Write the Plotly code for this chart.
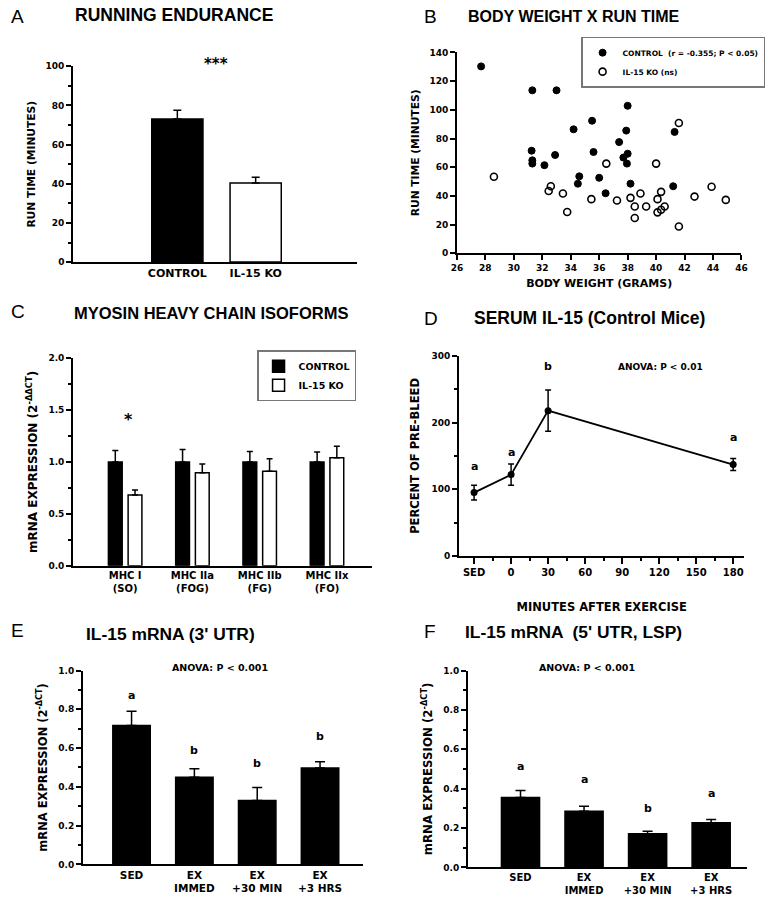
import plotly.graph_objects as go

W, H = 777, 903

# ---------------- DATA ----------------
# A: running endurance
a_groups = ["CONTROL", "IL-15 KO"]
a_runtime = [73.1, 40.4]
a_sem = [4.5, 3.0]

# B: body weight vs run time
b_ctrl_weight = [27.7, 31.3, 33.0, 38.0, 34.2, 35.5, 37.9, 41.3, 37.4, 31.25, 35.6, 32.9,
                 38.0, 37.7, 31.3, 31.3, 32.15, 37.95, 34.6, 36.0, 34.5, 38.2, 41.2, 36.45]
b_ctrl_run = [130.3, 113.6, 113.6, 102.8, 86.4, 92.4, 85.5, 84.6, 77.5, 71.5, 70.6, 68.5,
              69.4, 66.7, 64.8, 62.5, 61.4, 62.5, 53.6, 52.6, 48.5, 48.5, 46.7, 41.8]
b_ko_weight = [28.6, 32.6, 32.45, 33.45, 33.75, 35.45, 36.5, 37.25, 38.2, 38.5, 38.5, 38.9,
               39.3, 40.0, 40.1, 40.1, 40.35, 40.35, 40.6, 41.6, 41.6, 42.7, 43.9, 44.9]
b_ko_run = [53.3, 46.7, 43.4, 41.6, 28.7, 37.7, 62.5, 36.8, 38.6, 32.6, 24.6, 41.6,
            32.6, 62.5, 37.7, 28.5, 42.8, 30.3, 32.6, 90.8, 18.6, 39.5, 46.4, 37.2]

# C: myosin heavy chain isoforms
c_isoforms = ["MHC I<br>(SO)", "MHC IIa<br>(FOG)", "MHC IIb<br>(FG)", "MHC IIx<br>(FO)"]
c_ctrl = [1.0, 1.0, 1.0, 1.0]
c_ctrl_sem = [0.11, 0.12, 0.10, 0.095]
c_ko = [0.68, 0.895, 0.91, 1.04]
c_ko_sem = [0.05, 0.085, 0.12, 0.11]

# D: serum IL-15
d_minutes = [-30, 0, 30, 180]          # SED plotted one interval before 0
d_percent = [95, 122, 218, 137]
d_sem = [11, 16, 31, 9]
d_letters = ["a", "a", "b", "a"]
d_letter_y = [134, 155, 284, 177]
d_tickvals = [-30, 0, 30, 60, 90, 120, 150, 180]
d_ticktext = ["SED", "0", "30", "60", "90", "120", "150", "180"]

# E / F: IL-15 mRNA
ef_groups = ["SED", "EX<br>IMMED", "EX<br>+30 MIN", "EX<br>+3 HRS"]
e_expr = [0.716, 0.450, 0.329, 0.497]
e_sem = [0.074, 0.044, 0.067, 0.033]
e_letters = ["a", "b", "b", "b"]
e_letter_y = [0.873, 0.589, 0.518, 0.66]
f_expr = [0.355, 0.285, 0.171, 0.226]
f_sem = [0.035, 0.025, 0.013, 0.017]
f_letters = ["a", "a", "b", "a"]
f_letter_y = [0.514, 0.444, 0.30, 0.374]

# ---------------- STYLE HELPERS ----------------
LF = "DejaVu Sans"
TF = "Liberation Sans"


def px_x(px):
    return px / W


def px_y(py):
    return 1 - py / H


def dom_x(a, b):
    return [px_x(a), px_x(b)]


def dom_y(top, bottom):
    return [px_y(bottom), px_y(top)]


def axis_common(**kw):
    d = dict(showline=True, linecolor="black", linewidth=1.5, showgrid=False,
             zeroline=False, ticks="outside", tickcolor="black", tickwidth=1.5,
             ticklen=5, tickfont=dict(family=LF, size=9, color="black", weight="bold"),
             fixedrange=True)
    d.update(kw)
    return d


def ytitle(text, size=11, standoff=6):
    return dict(text=text, font=dict(family=LF, size=size, color="black", weight="bold"),
                standoff=standoff)


fig = go.Figure()

# ---------------- A ----------------
fig.add_trace(go.Bar(
    x=a_groups, y=a_runtime, width=0.654,
    marker=dict(color=["black", "white"], line=dict(color="black", width=1.5)),
    error_y=dict(type="data", array=a_sem, arrayminus=[0] * len(a_sem), symmetric=False,
                 color="black", thickness=1.5, width=4),
    xaxis="x", yaxis="y", showlegend=False))

# ---------------- B ----------------
fig.add_trace(go.Scatter(
    x=b_ctrl_weight, y=b_ctrl_run, mode="markers", name="CONTROL  (r = -0.355; P < 0.05)",
    marker=dict(symbol="circle", size=7, color="black", line=dict(color="black", width=1)),
    xaxis="x2", yaxis="y2", legend="legend"))
fig.add_trace(go.Scatter(
    x=b_ko_weight, y=b_ko_run, mode="markers", name="IL-15 KO (ns)",
    marker=dict(symbol="circle-open", size=7, color="black", line=dict(color="black", width=1.6)),
    xaxis="x2", yaxis="y2", legend="legend"))

# ---------------- C ----------------
fig.add_trace(go.Bar(
    x=c_isoforms, y=c_ctrl, name="CONTROL", width=0.205, offset=-0.249,
    marker=dict(color="black", line=dict(color="black", width=1.5)),
    error_y=dict(type="data", array=c_ctrl_sem, arrayminus=[0] * 4, symmetric=False,
                 color="black", thickness=1.5, width=3),
    xaxis="x3", yaxis="y3", legend="legend2"))
fig.add_trace(go.Bar(
    x=c_isoforms, y=c_ko, name="IL-15 KO", width=0.205, offset=0.044,
    marker=dict(color="white", line=dict(color="black", width=1.5)),
    error_y=dict(type="data", array=c_ko_sem, arrayminus=[0] * 4, symmetric=False,
                 color="black", thickness=1.5, width=3),
    xaxis="x3", yaxis="y3", legend="legend2"))

# ---------------- D ----------------
fig.add_trace(go.Scatter(
    x=d_minutes, y=d_percent, mode="lines+markers",
    line=dict(color="black", width=1.8),
    marker=dict(color="black", size=7),
    error_y=dict(type="data", array=d_sem, color="black", thickness=1.5, width=3),
    xaxis="x4", yaxis="y4", showlegend=False))

# ---------------- E ----------------
fig.add_trace(go.Bar(
    x=ef_groups, y=e_expr, width=0.596,
    marker=dict(color="black", line=dict(color="black", width=1.5)),
    error_y=dict(type="data", array=e_sem, arrayminus=[0] * 4, symmetric=False,
                 color="black", thickness=1.5, width=5),
    xaxis="x5", yaxis="y5", showlegend=False))

# ---------------- F ----------------
fig.add_trace(go.Bar(
    x=ef_groups, y=f_expr, width=0.6,
    marker=dict(color="black", line=dict(color="black", width=1.5)),
    error_y=dict(type="data", array=f_sem, arrayminus=[0] * 4, symmetric=False,
                 color="black", thickness=1.5, width=5),
    xaxis="x6", yaxis="y6", showlegend=False))

# ---------------- AXES ----------------
cat_font = lambda s: dict(family=LF, size=s, color="black", weight="bold")

layout = dict(
    width=W, height=H, margin=dict(l=0, r=0, t=0, b=0),
    paper_bgcolor="white", plot_bgcolor="white", barmode="overlay",
    # A
    xaxis=axis_common(domain=dom_x(68, 357), anchor="y", ticks="", range=[-1.333, 2.30],
                      tickfont=cat_font(11), type="category"),
    yaxis=axis_common(domain=dom_y(62, 260), anchor="x", range=[0, 100], dtick=20,
                      minor=dict(dtick=10, ticklen=3, ticks="outside", tickcolor="black", tickwidth=1.5),
                      title=ytitle("RUN TIME (MINUTES)", 10.7, 8)),
    # B
    xaxis2=axis_common(domain=dom_x(458, 747), anchor="y2", range=[26, 46], dtick=2,
                       title=dict(text="BODY WEIGHT (GRAMS)",
                                  font=dict(family=LF, size=11, color="black", weight="bold"),
                                  standoff=8)),
    yaxis2=axis_common(domain=dom_y(48, 251), anchor="x2", range=[0, 140], dtick=20,
                       title=ytitle("RUN TIME (MINUTES)", 10.7, 8)),
    # C
    xaxis3=axis_common(domain=dom_x(68, 372), anchor="y3", ticks="", range=[-0.776, 3.673],
                       tickfont=cat_font(10), type="category"),
    yaxis3=axis_common(domain=dom_y(357, 567), anchor="x3", range=[0, 2.0], dtick=0.5,
                       tickformat=".1f",
                       minor=dict(dtick=0.25, ticklen=3, ticks="outside", tickcolor="black", tickwidth=1.5),
                       title=ytitle("mRNA EXPRESSION (2<sup>-ΔΔCT</sup>)", 12, 8)),
    # D
    xaxis4=axis_common(domain=dom_x(460, 750), anchor="y4", range=[-42.3, 189.1],
                       tickmode="array", tickvals=d_tickvals, ticktext=d_ticktext,
                       ticklen=6, tickfont=cat_font(10),
                       minor=dict(tickmode="linear", tick0=-30, dtick=15, ticklen=3,
                                  ticks="outside", tickcolor="black", tickwidth=1.5),
                       title=dict(text="MINUTES AFTER EXERCISE",
                                  font=dict(family=LF, size=11.5, color="black", weight="bold"),
                                  standoff=26)),
    yaxis4=axis_common(domain=dom_y(355, 557), anchor="x4", range=[0, 300], dtick=100,
                       minor=dict(dtick=50, ticklen=3, ticks="outside", tickcolor="black", tickwidth=1.5),
                       title=ytitle("PERCENT OF PRE-BLEED", 11.5, 10)),
    # E
    xaxis5=axis_common(domain=dom_x(78, 363), anchor="y5", ticks="", range=[-0.776, 3.69],
                       tickfont=cat_font(10.5), type="category"),
    yaxis5=axis_common(domain=dom_y(673, 869), anchor="x5", range=[0, 1.0], dtick=0.2,
                       tickformat=".1f",
                       minor=dict(dtick=0.1, ticklen=3, ticks="outside", tickcolor="black", tickwidth=1.5),
                       title=ytitle("mRNA EXPRESSION (2<sup>-ΔCT</sup>)", 11.5, 8)),
    # F
    xaxis6=axis_common(domain=dom_x(469, 753), anchor="y6", ticks="", range=[-0.83, 3.57],
                       tickfont=cat_font(10), type="category"),
    yaxis6=axis_common(domain=dom_y(673, 872), anchor="x6", range=[0, 1.0], dtick=0.2,
                       tickformat=".1f",
                       minor=dict(dtick=0.1, ticklen=3, ticks="outside", tickcolor="black", tickwidth=1.5),
                       title=ytitle("mRNA EXPRESSION (2<sup>-ΔCT</sup>)", 11.8, 8)),
    legend=dict(x=px_x(771), y=px_y(32), xanchor="right", yanchor="top",
                bgcolor="white", bordercolor="#777777", borderwidth=1.5,
                font=dict(family=LF, size=7.5, color="black", weight="bold"),
                tracegroupgap=0, itemwidth=30),
    legend2=dict(x=px_x(255), y=px_y(349), xanchor="left", yanchor="top",
                 bgcolor="white", bordercolor="#777777", borderwidth=1.5,
                 font=dict(family=LF, size=9.5, color="black", weight="bold"),
                 tracegroupgap=0, itemwidth=30),
)
fig.update_layout(**layout)

ann = []


def paper_text(text, x, y, size, family=TF, bold=True, xanchor="left", yanchor="middle"):
    font = dict(family=family, size=size, color="black")
    if bold:
        font["weight"] = "bold"
    ann.append(dict(text=text, x=px_x(x), y=px_y(y), xref="paper", yref="paper",
                    xanchor=xanchor, yanchor=yanchor, showarrow=False, font=font))


# panel letters
for letter, x, y in [("A", 3, 12), ("B", 423, 12), ("C", 3, 310), ("D", 423, 317),
                     ("E", 3, 632), ("F", 423, 634)]:
    paper_text(letter, x, y, 19, family=TF, bold=False)

# titles
paper_text("RUNNING ENDURANCE", 68, 10, 17.5)
paper_text("BODY WEIGHT X RUN TIME", 467, 12, 16)
paper_text("MYOSIN HEAVY CHAIN ISOFORMS", 67, 311, 16.5)
paper_text("SERUM IL-15 (Control Mice)", 473, 317, 17.5)
paper_text("IL-15 mRNA (3' UTR)", 79, 636, 17.4)
paper_text("IL-15 mRNA  (5' UTR, LSP)", 464, 634, 17.4)

# significance markers
paper_text("***", 213, 60, 15, family=LF, xanchor="center")
paper_text("*", 124, 419, 16, family=LF, xanchor="center")

# ANOVA notes
paper_text("ANOVA: P < 0.01", 665, 366, 9, family=LF, xanchor="center")
paper_text("ANOVA: P < 0.001", 217, 670, 9.5, family=LF, xanchor="center")
paper_text("ANOVA: P < 0.001", 590, 670, 9.5, family=LF, xanchor="center")

# letters over points / bars
for xv, yv, t in zip(d_minutes, d_letter_y, d_letters):
    ann.append(dict(text=t, x=xv, y=yv, xref="x4", yref="y4", showarrow=False,
                    font=dict(family=LF, size=11, color="black", weight="bold")))
for xv, yv, t in zip(ef_groups, e_letter_y, e_letters):
    ann.append(dict(text=t, x=xv, y=yv, xref="x5", yref="y5", showarrow=False,
                    font=dict(family=LF, size=11, color="black", weight="bold")))
for xv, yv, t in zip(ef_groups, f_letter_y, f_letters):
    ann.append(dict(text=t, x=xv, y=yv, xref="x6", yref="y6", showarrow=False,
                    font=dict(family=LF, size=11, color="black", weight="bold")))

fig.update_layout(annotations=ann)
fig.write_html("out.html", config={"displayModeBar": False},
               post_script="document.body.style.margin='0';")
